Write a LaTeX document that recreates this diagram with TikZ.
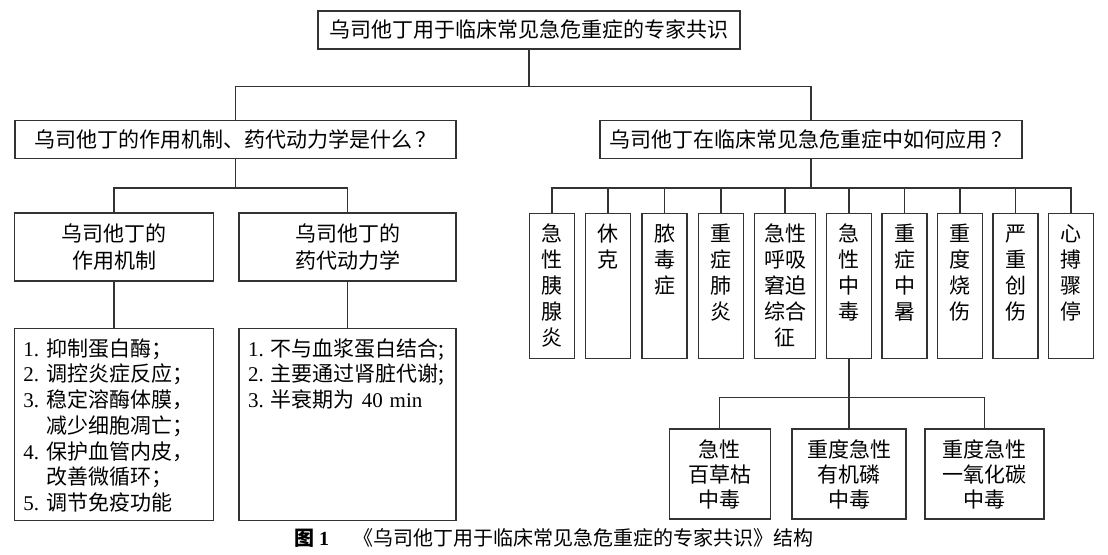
\documentclass[tikz,border=0pt]{standalone}
\usepackage{fontspec}
\setmainfont{Liberation Serif}
\newfontfamily\cjk{Noto Sans CJK SC}
\usepackage{tikz}
\usetikzlibrary{positioning}
\definecolor{lineg}{HTML}{333333}
\newcommand\numtxt[1]{{\rmfamily #1}}
\newcommand\lnum[1]{{\rmfamily #1.\ }}

\begin{document}
\begin{tikzpicture}[
  x=0.5pt, y=-0.5pt,
  box/.style={draw=lineg, line width=0.65pt, align=center, inner sep=0pt, font=\cjk\fontsize{10.5pt}{13.5pt}\selectfont},
  head/.style={box, minimum height=19pt},
  sub/.style={box, minimum height=34pt},
  list/.style={box, anchor=north, align=left, inner xsep=4.5pt, text height=14pt, text depth=82pt, font=\cjk\fontsize{10.5pt}{12.85pt}\selectfont},
  col/.style={box, anchor=north, text width=22.5pt, text height=14pt, text depth=58.5pt, font=\cjk\fontsize{10.5pt}{13pt}\selectfont},
  leaf/.style={box, minimum height=45pt, font=\cjk\fontsize{10.5pt}{12.5pt}\selectfont},
  link/.style={draw=lineg, line width=0.65pt}
]
\useasboundingbox (0,0) rectangle (1108,555);

\node[head, minimum width=211pt] (root) at (529,30) {乌司他丁用于临床常见急危重症的专家共识};

\node[head, minimum width=220.5pt] (qmech) at (235.5,139.5) {乌司他丁的作用机制、药代动力学是什么\,？};
\node[head, minimum width=211pt] (quse) at (811,139.5) {乌司他丁在临床常见急危重症中如何应用\,？};

\node[sub, minimum width=99.5pt] (mech) at (114,247) {乌司他丁的\\作用机制};
\node[sub, minimum width=108.5pt] (pk) at (347.5,247) {乌司他丁的\\药代动力学};

\node[list, text width=90.5pt, below=23pt of mech] (mechlist) {\lnum{1}抑制蛋白酶；\\
  \lnum{2}调控炎症反应；\\
  \lnum{3}稳定溶酶体膜，\\
  \hphantom{\lnum{3}}减少细胞凋亡；\\
  \lnum{4}保护血管内皮，\\
  \hphantom{\lnum{4}}改善微循环；\\
  \lnum{5}调节免疫功能};
\node[list, text width=99.5pt, below=23pt of pk] (pklist) {\lnum{1}不与血浆蛋白结合;\\
  \lnum{2}主要通过肾脏代谢;\\
  \lnum{3}半衰期为\numtxt{\ 40 min}};

% diseases
\node[col] (c1) at (552,213) {急\\性\\胰\\腺\\炎};
\node[col] (c2) at (608,213) {休\\克};
\node[col] (c3) at (664.5,213) {脓\\毒\\症};
\node[col] (c4) at (721,213) {重\\症\\肺\\炎};
\node[col, text width=30.5pt] (c5) at (785,213) {急性\\呼吸\\窘迫\\综合\\征};
\node[col] (c6) at (849,213) {急\\性\\中\\毒};
\node[col] (c7) at (904.5,213) {重\\症\\中\\暑};
\node[col] (c8) at (960,213) {重\\度\\烧\\伤};
\node[col] (c9) at (1015.5,213) {严\\重\\创\\伤};
\node[col] (c10) at (1071,213) {心\\搏\\骤\\停};

\node[leaf, minimum width=50.5pt] (paraquat) at (719.7,474) {急性\\百草枯\\中毒};
\node[leaf, minimum width=57pt] (organo) at (849,474) {重度急性\\有机磷\\中毒};
\node[leaf, minimum width=59.5pt] (carbon) at (984.5,474) {重度急性\\一氧化碳\\中毒};

\node[font=\cjk\fontsize{10pt}{12pt}\selectfont] (caption) at (554,538) {{\bfseries 图\ \numtxt{1}}\quad\ 《乌司他丁用于临床常见急危重症的专家共识》结构};

\draw[link] (root.south) -- ++(0,37) -| (qmech.north);
\draw[link] (root.south) ++(0,37) -| (quse.north);
\draw[link] (qmech.south) -- ++(0,29) -| (mech.north);
\draw[link] (qmech.south) ++(0,29) -| (pk.north);
\draw[link] (mech.south) -- (mechlist.north);
\draw[link] (pk.south) -- (pklist.north);

\draw[link] (quse.south) -- ++(0,29) -| (c1.north);
\draw[link] (quse.south) ++(0,29) -| (c2.north);
\draw[link] (quse.south) ++(0,29) -| (c3.north);
\draw[link] (quse.south) ++(0,29) -| (c4.north);
\draw[link] (quse.south) ++(0,29) -| (c5.north);
\draw[link] (quse.south) ++(0,29) -| (c6.north);
\draw[link] (quse.south) ++(0,29) -| (c7.north);
\draw[link] (quse.south) ++(0,29) -| (c8.north);
\draw[link] (quse.south) ++(0,29) -| (c9.north);
\draw[link] (quse.south) ++(0,29) -| (c10.north);

\draw[link] (c6.south) -- ++(0,38) -| (paraquat.north);
\draw[link] (c6.south) ++(0,38) -| (organo.north);
\draw[link] (c6.south) ++(0,38) -| (carbon.north);

\end{tikzpicture}
\end{document}
